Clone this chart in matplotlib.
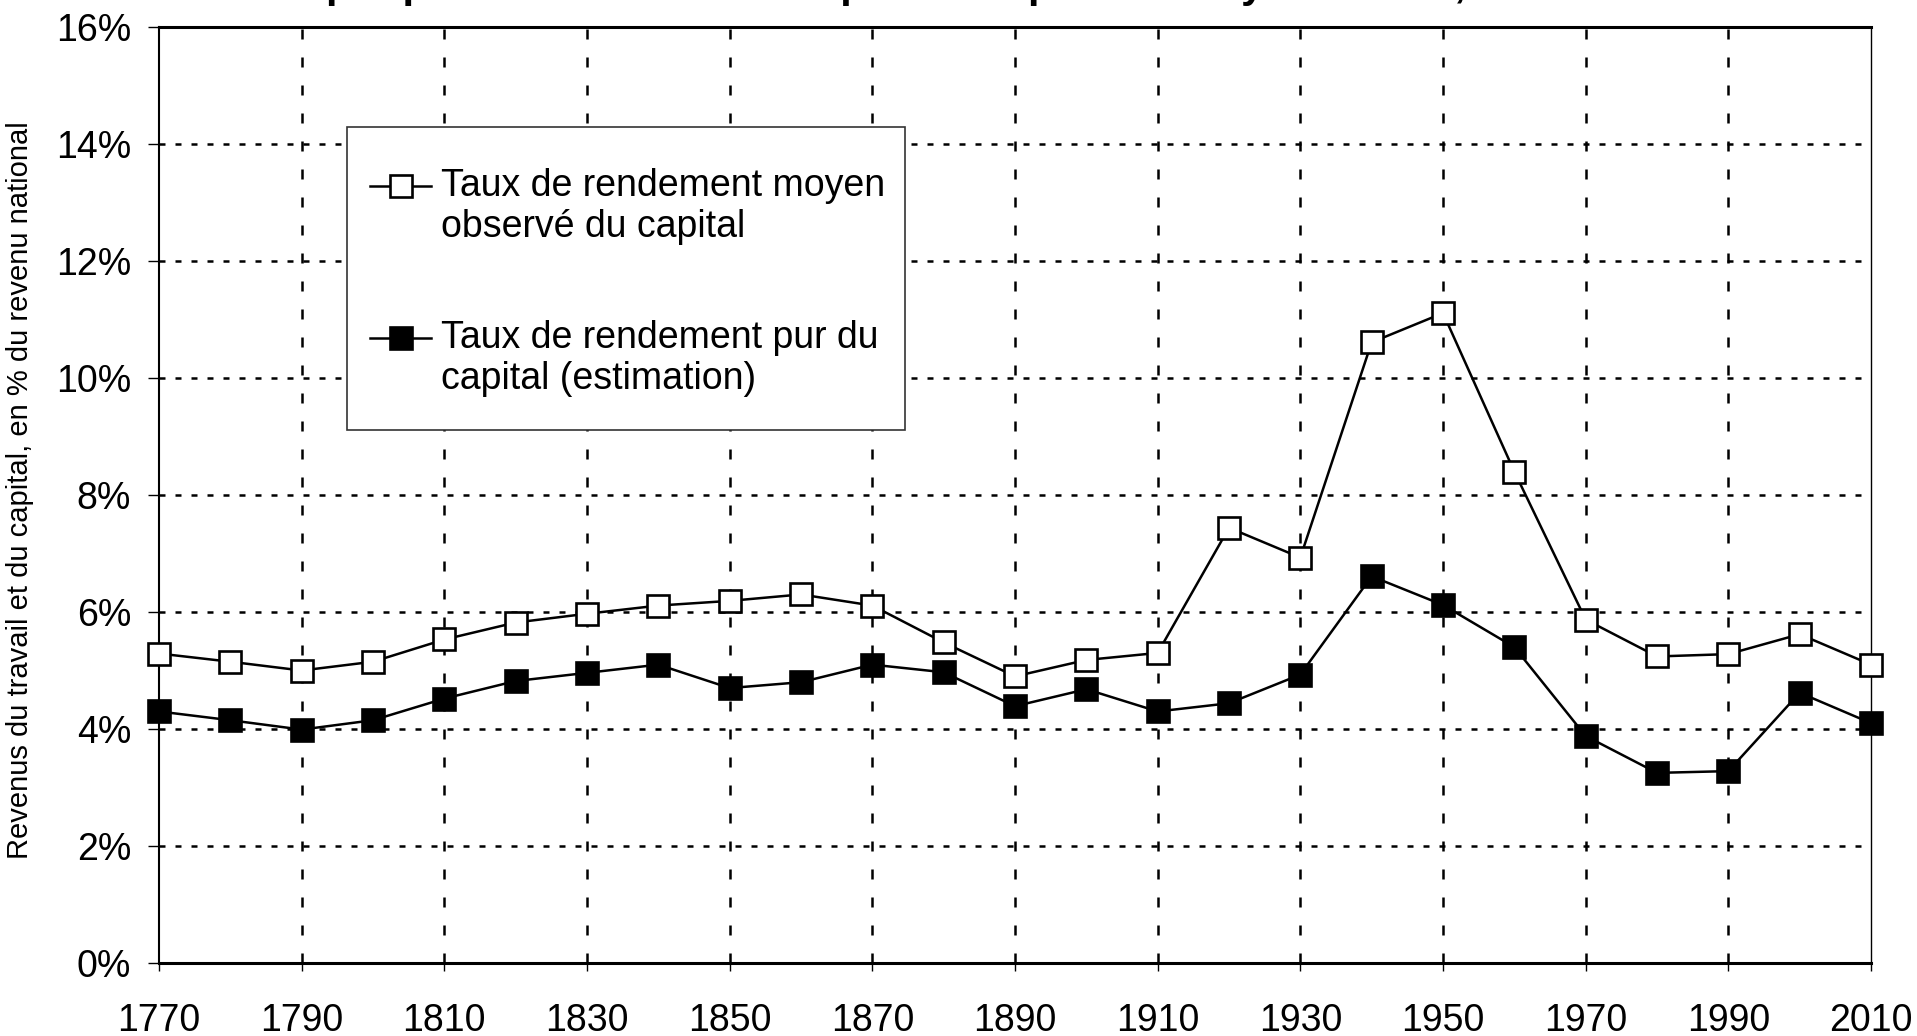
import matplotlib
matplotlib.use('Agg')
import matplotlib.pyplot as plt
from matplotlib.lines import Line2D
from matplotlib.patches import Rectangle
from matplotlib.ticker import FuncFormatter
import numpy as np


plt.rcParams['font.family'] = ['Liberation Sans', 'DejaVu Sans']

years = list(range(1770, 2011, 10))
observed = [5.29, 5.15, 5.00, 5.15, 5.53, 5.82, 5.97, 6.11, 6.19, 6.30, 6.11,
            5.48, 4.90, 5.18, 5.30, 7.44, 6.93, 10.61, 11.11, 8.40, 5.87,
            5.24, 5.28, 5.62, 5.10]
pure = [4.30, 4.15, 3.99, 4.15, 4.52, 4.82, 4.96, 5.10, 4.70, 4.80, 5.10,
        4.97, 4.39, 4.68, 4.30, 4.44, 4.93, 6.61, 6.12, 5.40, 3.88,
        3.25, 3.28, 4.62, 4.10]

x_ticks = list(range(1770, 2011, 20))
y_ticks = list(range(0, 17, 2))

title = 'Graphique 6.5. Le rendement pur du capital au Royaume-Uni, 1770-2010'
ylabel = 'Revenus du travail et du capital, en % du revenu national'
legend_lines = [['Taux de rendement moyen', 'observé du capital'],
                ['Taux de rendement pur du', 'capital (estimation)']]

W, H = 1917, 1036
fig = plt.figure(figsize=(W / 100, H / 100), dpi=100)
left, right, top, bottom = 159, 1871, 27, 963
ax = fig.add_axes([left / W, 1 - bottom / H, (right - left) / W, (bottom - top) / H])

ms = 16
ax.plot(years, observed, color='black', lw=1.8, marker='s', markersize=ms,
        markerfacecolor='white', markeredgecolor='black', markeredgewidth=1.9,
        clip_on=False, zorder=4)
ax.plot(years, pure, color='black', lw=1.8, marker='s', markersize=ms,
        markerfacecolor='black', markeredgecolor='black', markeredgewidth=1.9,
        clip_on=False, zorder=4)

ax.set_xlim(1770, 2010)
ax.set_ylim(0, 16)
ax.set_xticks(x_ticks)
ax.set_yticks(y_ticks)
ax.yaxis.set_major_formatter(FuncFormatter(lambda v, p: f'{v:.0f}%'))

for yv in y_ticks[1:-1]:
    ax.axhline(yv, color='black', lw=1.8, linestyle=(0, (2.4, 4.0)), zorder=1)
for xv in x_ticks[1:-1]:
    ax.axvline(xv, color='black', lw=1.8, linestyle=(0, (4.0, 7.2)), zorder=1)

ax.tick_params(axis='x', direction='out', length=6, width=1, pad=23, labelsize=27)
ax.tick_params(axis='y', direction='out', length=8, width=1, pad=12, labelsize=27)

ax.spines['top'].set_linewidth(2.2)
ax.spines['bottom'].set_linewidth(2.2)
ax.spines['left'].set_linewidth(1.5)
ax.spines['right'].set_linewidth(1.0)

fig.text(20 / W, 1 - 490 / H, ylabel, rotation=90, ha='center', va='center',
         fontsize=21)

fig.text(254 / W, 1 + 3 / H, title, fontsize=30, fontweight='bold',
         ha='left', va='baseline')

# legend box, drawn by hand so the handle sits on the first line
lx0, ly0, lx1, ly1 = 347, 127, 905, 430
fig.patches.append(Rectangle((lx0 / W, 1 - ly1 / H), (lx1 - lx0) / W, (ly1 - ly0) / H,
                             transform=fig.transFigure, facecolor='white',
                             edgecolor='#333333', lw=1.2, zorder=5))
faces = ['white', 'black']
rows = [186, 338]
for face, row, lines in zip(faces, rows, legend_lines):
    yy = 1 - row / H
    fig.lines.append(Line2D([370 / W, 400.5 / W, 431 / W], [yy, yy, yy],
                            transform=fig.transFigure, color='black', lw=1.8,
                            marker='s', markersize=ms, markevery=[1],
                            markerfacecolor=face, markeredgecolor='black',
                            markeredgewidth=1.9, zorder=6))
    for k, txt in enumerate(lines):
        fig.text(441 / W, 1 - (row + 41 * k) / H, txt, fontsize=27,
                 ha='left', va='center', zorder=7)

fig.savefig('out.png', dpi=100)
